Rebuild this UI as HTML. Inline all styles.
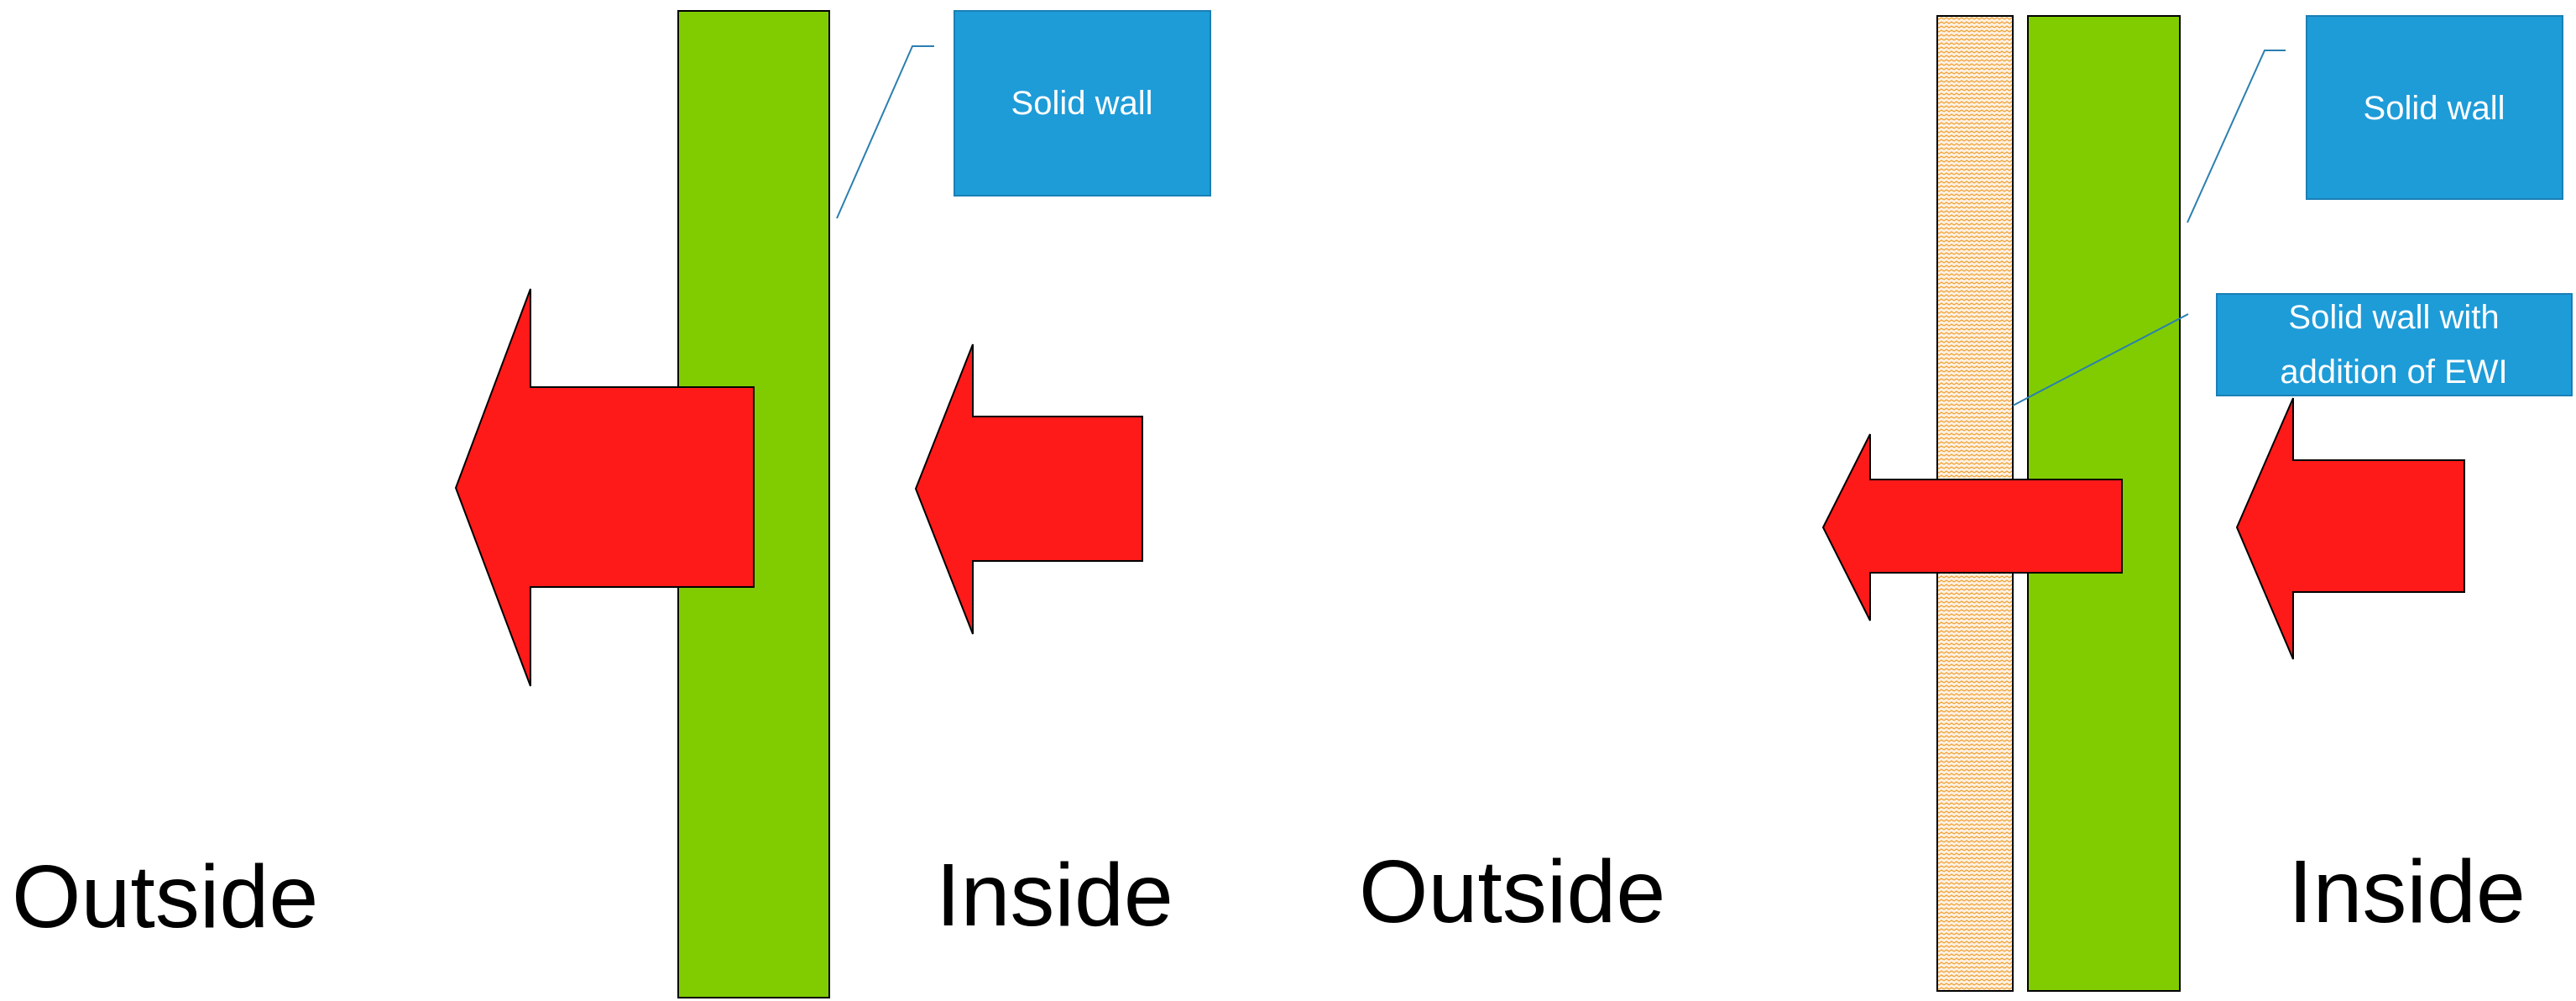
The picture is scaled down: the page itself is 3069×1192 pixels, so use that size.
<!DOCTYPE html>
<html><head><meta charset="utf-8"><style>
html,body{margin:0;padding:0;background:#fff;}
svg{display:block;}
</style></head><body>
<svg width="3069" height="1192" viewBox="0 0 3069 1192" xmlns="http://www.w3.org/2000/svg">
<defs>
<pattern id="hatch" width="12" height="10" patternUnits="userSpaceOnUse">
<rect width="12" height="10" fill="#fdf1e2"/>
<path d="M0 3 L3 1 L6 3 L9 1 L12 3" stroke="#f0a030" stroke-width="1.3" fill="none"/>
<path d="M0 8 L3 6 L6 8 L9 6 L12 8" stroke="#f0a030" stroke-width="1.3" fill="none"/>
</pattern>
</defs>
<g font-family="Liberation Sans, sans-serif">
<!-- Left panel -->
<rect x="808" y="13" width="180" height="1175" fill="#80cc00" stroke="#000" stroke-width="2"/>
<rect x="1137" y="13" width="305" height="220" fill="#1e9cd8" stroke="#1a7fb5" stroke-width="2"/>
<text x="1289" y="136" font-size="40" fill="#fff" text-anchor="middle">Solid wall</text>
<polyline points="997,260 1087,55 1113,55" fill="none" stroke="#2a7fb0" stroke-width="2"/>
<polygon points="543,581 632,344 632,461 898,461 898,699 632,699 632,817" fill="#ff1a1a" stroke="#000" stroke-width="2"/>
<polygon points="1091,582 1159,410 1159,496 1361,496 1361,668 1159,668 1159,755" fill="#ff1a1a" stroke="#000" stroke-width="2"/>
<text x="14" y="1104" font-size="106" fill="#000">Outside</text>
<text x="1115" y="1102" font-size="106" fill="#000">Inside</text>
<!-- Right panel -->
<rect x="2308" y="19" width="90" height="1161" fill="url(#hatch)" stroke="#000" stroke-width="2"/>
<rect x="2416" y="19" width="181" height="1161" fill="#80cc00" stroke="#000" stroke-width="2"/>
<rect x="2748" y="19" width="305" height="218" fill="#1e9cd8" stroke="#1a7fb5" stroke-width="2"/>
<text x="2900" y="142" font-size="40" fill="#fff" text-anchor="middle">Solid wall</text>
<polyline points="2606,265 2698,60 2723,60" fill="none" stroke="#2a7fb0" stroke-width="2"/>
<rect x="2641" y="350" width="423" height="121" fill="#1e9cd8" stroke="#1a7fb5" stroke-width="2"/>
<text x="2852" y="391" font-size="40" fill="#fff" text-anchor="middle">Solid wall with</text>
<text x="2852" y="456" font-size="40" fill="#fff" text-anchor="middle">addition of EWI</text>
<line x1="2398" y1="483" x2="2607" y2="374" stroke="#2a7fb0" stroke-width="2"/>
<polygon points="2172,628 2228,517 2228,571 2528,571 2528,682 2228,682 2228,739" fill="#ff1a1a" stroke="#000" stroke-width="2"/>
<polygon points="2665,628 2732,474 2732,548 2936,548 2936,705 2732,705 2732,785" fill="#ff1a1a" stroke="#000" stroke-width="2"/>
<text x="1619" y="1098" font-size="106" fill="#000">Outside</text>
<text x="2726" y="1098" font-size="106" fill="#000">Inside</text>
</g>
</svg>
</body></html>
